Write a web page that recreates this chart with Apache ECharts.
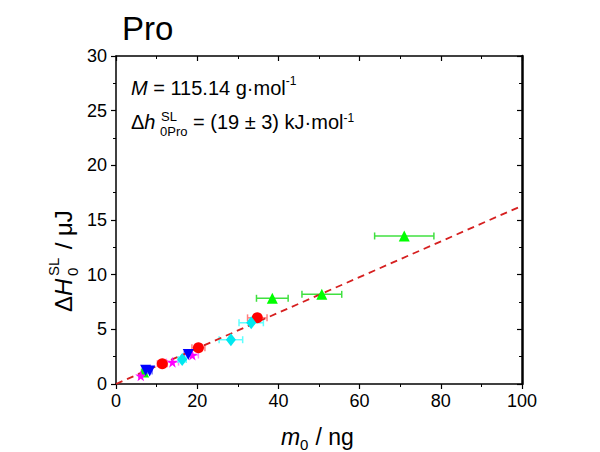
<!DOCTYPE html>
<html><head><meta charset="utf-8">
<script src="https://cdn.jsdelivr.net/npm/echarts@6/dist/echarts.min.js"></script>
<style>html,body{margin:0;padding:0;background:#fff}#c{width:600px;height:452px}</style>
</head><body><div id="c"></div>
<script>
// Data
var redX = [11.4, 20.3, 34.8], redY = [1.86, 3.32, 6.05], redErr = [1.2, 1.6, 2.4];
var greenX = [6.8, 38.5, 50.7, 71.0], greenY = [1.1, 7.84, 8.2, 13.54], greenErr = [0.5, 3.9, 4.9, 7.3];
var blueX = [7.3, 8.3, 17.8], blueY = [1.25, 1.2, 2.7], blueErr = [0.5, 0.6, 1.0];
var magX = [6.1, 13.9, 18.8], magY = [0.75, 2.0, 2.65], magErr = [0.4, 1.5, 1.5];
var cyanX = [16.3, 28.3, 33.3], cyanY = [2.25, 4.05, 5.6], cyanErr = [1.0, 2.9, 3.0];
var fitX = [0, 100], fitY = [0, 16.3];
var xTicks = [0, 20, 40, 60, 80, 100];
var yTicks = [0, 5, 10, 15, 20, 25, 30];

function pts(xs, ys) { return xs.map(function (x, i) { return [x, ys[i]]; }); }
function errPts(xs, ys, es) { return xs.map(function (x, i) { return [x, ys[i], es[i]]; }); }

var FONT = 'Liberation Sans, Arial, sans-serif';

function errSeries(data, color) {
  return {
    type: 'custom', z: 1, silent: true,
    renderItem: function (params, api) {
      var x = api.value(0), y = api.value(1), e = api.value(2);
      var a = api.coord([x - e, y]), b = api.coord([x + e, y]);
      var c = 3.5;
      return { type: 'group', children: [
        { type: 'line', shape: { x1: a[0], y1: a[1], x2: b[0], y2: b[1] }, style: { stroke: color, lineWidth: 1.5 } },
        { type: 'line', shape: { x1: a[0], y1: a[1] - c, x2: a[0], y2: a[1] + c }, style: { stroke: color, lineWidth: 1.5 } },
        { type: 'line', shape: { x1: b[0], y1: b[1] - c, x2: b[0], y2: b[1] + c }, style: { stroke: color, lineWidth: 1.5 } }
      ]};
    },
    data: data
  };
}

function scat(data, symbol, size, color) {
  return { type: 'scatter', z: 3, symbol: symbol, symbolSize: size, itemStyle: { color: color, opacity: 1 }, data: data };
}

var starPath = 'path://M50,0 L61,35 L98,35 L68,57 L79,91 L50,70 L21,91 L32,57 L2,35 L39,35 Z';

var axisLabelStyle = { fontFamily: FONT, fontSize: 18, color: '#000' };
var chart = echarts.init(document.getElementById('c'), null, { renderer: 'svg' });
chart.setOption({
  animation: false,
  grid: { left: 116, right: 78, top: 56, bottom: 68, containLabel: false },
  xAxis: [
    { type: 'value', min: 0, max: 100, interval: 20, position: 'bottom',
      axisLine: { show: true, onZero: false, lineStyle: { color: '#000', width: 1.5 } },
      axisTick: { show: true, inside: false, length: 5, lineStyle: { color: '#000', width: 1.2 } },
      minorTick: { show: true, splitNumber: 2, length: 3, lineStyle: { color: '#000' } },
      axisLabel: Object.assign({ margin: 8, formatter: function (v) { return xTicks.indexOf(v) >= 0 ? String(v) : ''; } }, axisLabelStyle),
      splitLine: { show: false } },
    { type: 'value', min: 0, max: 100, interval: 20, position: 'top',
      axisLine: { show: true, onZero: false, lineStyle: { color: '#000', width: 1.5 } },
      axisTick: { show: true, inside: true, length: 5, lineStyle: { color: '#000', width: 1.2 } },
      minorTick: { show: true, splitNumber: 2, length: 3, lineStyle: { color: '#000' } },
      axisLabel: { show: false }, splitLine: { show: false } }
  ],
  yAxis: [
    { type: 'value', min: 0, max: 30, interval: 5, position: 'left',
      axisLine: { show: true, onZero: false, lineStyle: { color: '#000', width: 1.5 } },
      axisTick: { show: true, inside: false, length: 5, lineStyle: { color: '#000', width: 1.2 } },
      minorTick: { show: true, splitNumber: 2, length: 3, lineStyle: { color: '#000' } },
      axisLabel: Object.assign({ margin: 9, formatter: function (v) { return yTicks.indexOf(v) >= 0 ? String(v) : ''; } }, axisLabelStyle),
      splitLine: { show: false } },
    { type: 'value', min: 0, max: 30, interval: 5, position: 'right',
      axisLine: { show: true, onZero: false, lineStyle: { color: '#000', width: 2.5 } },
      axisTick: { show: true, inside: true, length: 5, lineStyle: { color: '#000', width: 1.2 } },
      minorTick: { show: true, splitNumber: 2, length: 3, lineStyle: { color: '#000' } },
      axisLabel: { show: false }, splitLine: { show: false } }
  ],
  series: [
    { type: 'line', z: 2, data: pts(fitX, fitY), showSymbol: false, symbol: 'none',
      lineStyle: { color: '#d62020', width: 1.8, type: [7, 5] } },
    errSeries(errPts(redX, redY, redErr), '#ff8080'),
    errSeries(errPts(greenX, greenY, greenErr), '#40e040'),
    errSeries(errPts(blueX, blueY, blueErr), '#8080ff'),
    errSeries(errPts(magX, magY, magErr), '#ff80ff'),
    errSeries(errPts(cyanX, cyanY, cyanErr), '#60ffff'),
    scat(pts(greenX, greenY), 'triangle', 11, '#00ff00'),
    scat(pts(redX, redY), 'circle', 11, '#ff0000'),
    scat(pts(cyanX, cyanY), 'diamond', [10, 13], '#00e8f0'),
    scat(pts(magX, magY), starPath, 11, '#ff00ff'),
    scat(pts(blueX, blueY), 'path://M0,0 L100,0 L50,87 Z', 11, '#0000ff')
  ],
  graphic: [
    { type: 'text', left: 122, top: 12, style: { text: 'Pro', font: '33px ' + FONT, fill: '#000' } },
    // annotation line 1
    { type: 'text', x: 131, y: 88, style: {
        text: '{i|M} = 115.14 g·mol{s|-1}', font: '20px ' + FONT, fill: '#000', verticalAlign: 'middle',
        rich: { i: { fontStyle: 'italic', fontSize: 20, fontFamily: FONT, lineHeight: 26 },
                s: { fontSize: 12, fontFamily: FONT, verticalAlign: 'top', lineHeight: 14 } } } },
    // annotation line 2
    { type: 'text', x: 131, y: 122, style: {
        text: 'Δ{i|h}', font: '20px ' + FONT, fill: '#000', verticalAlign: 'middle',
        rich: { i: { fontStyle: 'italic', fontSize: 20, fontFamily: FONT } } } },
    { type: 'text', x: 161, y: 116, style: { text: 'SL', font: '13px ' + FONT, fill: '#000', verticalAlign: 'middle' } },
    { type: 'text', x: 160, y: 131, style: { text: '0Pro', font: '13px ' + FONT, fill: '#000', verticalAlign: 'middle' } },
    { type: 'text', x: 193, y: 122, style: {
        text: '= (19 ± 3) kJ·mol{s|-1}', font: '20px ' + FONT, fill: '#000', verticalAlign: 'middle',
        rich: { s: { fontSize: 12, fontFamily: FONT, verticalAlign: 'top', lineHeight: 14 } } } },
    // x axis name
    { type: 'text', x: 281, y: 437, style: { text: 'm', font: 'italic 23px ' + FONT, fill: '#000', verticalAlign: 'middle' } },
    { type: 'text', x: 300, y: 444, style: { text: '0', font: '15px ' + FONT, fill: '#000', verticalAlign: 'middle' } },
    { type: 'text', x: 309, y: 437, style: { text: ' / ng', font: '23px ' + FONT, fill: '#000', verticalAlign: 'middle' } },
    // y axis name (rotated)
    { type: 'group', x: 63, y: 312, rotation: Math.PI / 2, children: [
      { type: 'text', x: 0, y: 0, style: { text: 'Δ', font: '24px ' + FONT, fill: '#000', verticalAlign: 'middle' } },
      { type: 'text', x: 16, y: 0, style: { text: 'H', font: 'italic 24px ' + FONT, fill: '#000', verticalAlign: 'middle' } },
      { type: 'text', x: 36, y: -10, style: { text: 'SL', font: '15px ' + FONT, fill: '#000', verticalAlign: 'middle' } },
      { type: 'text', x: 36, y: 9, style: { text: '0', font: '15px ' + FONT, fill: '#000', verticalAlign: 'middle' } },
      { type: 'text', x: 56, y: 0, style: { text: ' / μJ', font: '24px ' + FONT, fill: '#000', verticalAlign: 'middle' } }
    ] }
  ]
});
</script>
</body></html>
